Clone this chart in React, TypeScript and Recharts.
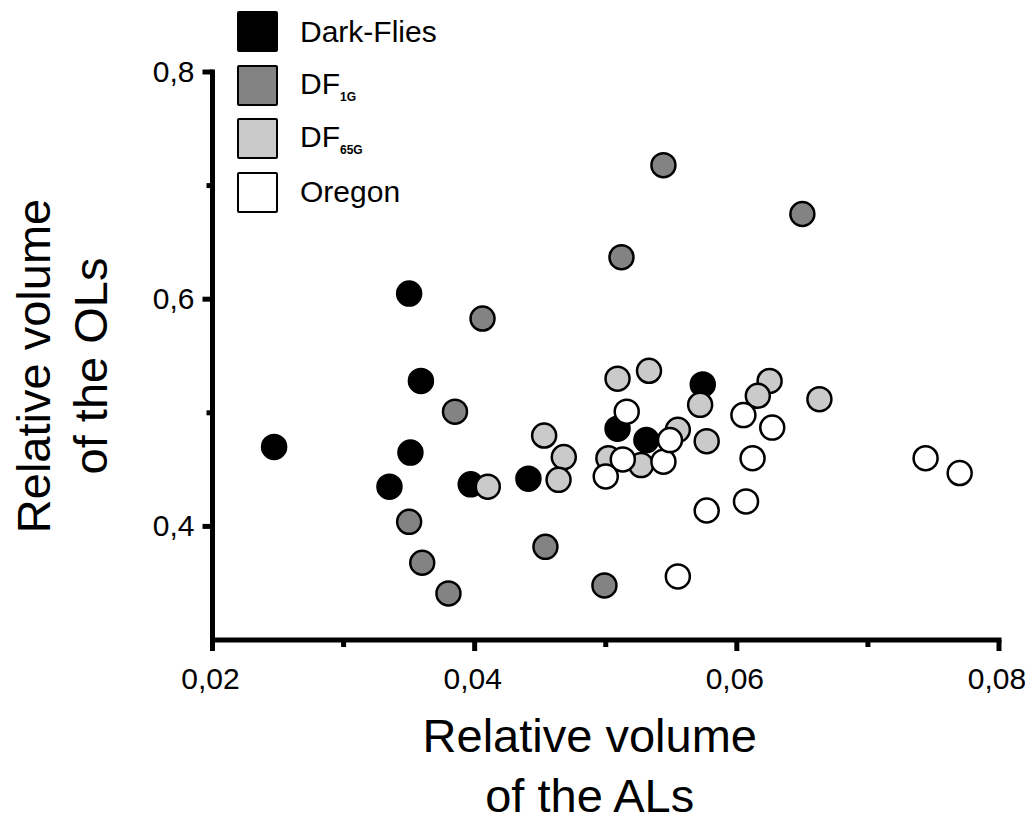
import { Legend, Scatter, ScatterChart, XAxis, YAxis } from "recharts";

const groupNames = ["Dark-Flies", "DF1G", "DF65G", "Oregon"];

const darkX = [0.0247, 0.035, 0.0359, 0.0351, 0.0335, 0.0397, 0.0441, 0.0509, 0.0531, 0.0574];
const darkY = [0.47, 0.605, 0.528, 0.465, 0.435, 0.437, 0.442, 0.486, 0.476, 0.525];

const df1gX = [0.035, 0.036, 0.038, 0.0406, 0.0385, 0.0454, 0.0499, 0.0544, 0.0512, 0.065];
const df1gY = [0.404, 0.368, 0.341, 0.583, 0.501, 0.382, 0.348, 0.718, 0.637, 0.675];

const df65gX = [0.041, 0.0453, 0.0468, 0.0464, 0.0509, 0.0533, 0.0572, 0.0577, 0.0625, 0.0616, 0.0663, 0.0527, 0.0555, 0.0502];
const df65gY = [0.435, 0.48, 0.461, 0.441, 0.53, 0.537, 0.507, 0.475, 0.528, 0.515, 0.512, 0.454, 0.485, 0.46];

const oregonX = [0.0516, 0.05, 0.0513, 0.0544, 0.0549, 0.0605, 0.0627, 0.0612, 0.0607, 0.0577, 0.0744, 0.077, 0.0555];
const oregonY = [0.501, 0.444, 0.459, 0.457, 0.476, 0.498, 0.487, 0.46, 0.422, 0.414, 0.46, 0.447, 0.356];

const xTicks = [0.02, 0.03, 0.04, 0.05, 0.06, 0.07, 0.08];
const xTickLabels = ["0,02", "", "0,04", "", "0,06", "", "0,08"];
const yTicks = [0.4, 0.5, 0.6, 0.7, 0.8];
const yTickLabels = ["0,4", "", "0,6", "", "0,8"];

const font = "'Liberation Sans', Arial, sans-serif";

const toPoints = (xs: number[], ys: number[]) => xs.map((x, i) => ({ x, y: ys[i] }));

const series = [
  { name: groupNames[0], fill: "#000000", data: toPoints(darkX, darkY) },
  { name: groupNames[1], fill: "#838383", data: toPoints(df1gX, df1gY) },
  { name: groupNames[2], fill: "#cacaca", data: toPoints(df65gX, df65gY) },
  { name: groupNames[3], fill: "#ffffff", data: toPoints(oregonX, oregonY) }
];

function Dot(props: any) {
  const { cx, cy, fill } = props;
  return <circle cx={cx} cy={cy} r={12} fill={fill} stroke="#000" strokeWidth={2.5} />;
}

function XTick(props: any) {
  const { x, y, index } = props;
  const label = xTickLabels[index];
  return (
    <g>
      <line x1={x} x2={x} y1={y} y2={y + (label ? 11 : 7)} stroke="#000" strokeWidth={5} />
      {label && (
        <text x={x - 2} y={y + 49} textAnchor="middle" fontSize={30} fontFamily={font} fill="#000">
          {label}
        </text>
      )}
    </g>
  );
}

function YTick(props: any) {
  const { x, y, index } = props;
  const label = yTickLabels[index];
  return (
    <g>
      <line x1={x - (label ? 10 : 6)} x2={x} y1={y} y2={y} stroke="#000" strokeWidth={5} />
      {label && (
        <text x={x - 18} y={y + 10} textAnchor="end" fontSize={30} fontFamily={font} fill="#000">
          {label}
        </text>
      )}
    </g>
  );
}

function XTitle(props: any) {
  const { viewBox } = props;
  const cx = viewBox.x + viewBox.width / 2 - 16;
  return (
    <g fontFamily={font} fontSize={47} fill="#000">
      <text x={cx} y={viewBox.y + 112} textAnchor="middle">Relative volume</text>
      <text x={cx} y={viewBox.y + 172} textAnchor="middle">of the ALs</text>
    </g>
  );
}

function YTitle(props: any) {
  const { viewBox } = props;
  const cy = viewBox.y + viewBox.height / 2 + 10;
  return (
    <g fontFamily={font} fontSize={47} fill="#000">
      <text x={42} y={cy} transform={`rotate(-90, 42, ${cy})`} textAnchor="middle">
        Relative volume
      </text>
      <text x={99} y={cy} transform={`rotate(-90, 99, ${cy})`} textAnchor="middle">
        of the OLs
      </text>
    </g>
  );
}

function LegendBox() {
  const row = (fill: string, main: string, sub?: string) => (
    <div key={main + (sub ?? "")} style={{ display: "flex", alignItems: "center", height: 53.5 }}>
      <div style={{ width: 37, height: 37, background: fill, border: "2px solid #000", borderRadius: 2 }} />
      <span style={{ marginLeft: 22, fontSize: 30, fontFamily: font, color: "#000" }}>
        {main}
        {sub && <sub style={{ fontSize: 12, fontWeight: "bold" }}>{sub}</sub>}
      </span>
    </div>
  );
  return (
    <div>
      {row(series[0].fill, "Dark-Flies")}
      {row(series[1].fill, "DF", "1G")}
      {row(series[2].fill, "DF", "65G")}
      {row(series[3].fill, "Oregon")}
    </div>
  );
}

export default function App() {
  return (
    <div style={{ background: "#fff" }}>
      <style>{`.recharts-surface { overflow: visible; }`}</style>
      <ScatterChart width={1017} height={814} margin={{ top: 64, right: 26, bottom: 0, left: 0 }}>
        <XAxis
          type="number"
          dataKey="x"
          domain={[0.02, 0.08]}
          ticks={xTicks}
          height={182}
          tickSize={0}
          tickMargin={0}
          tickLine={false}
          tick={<XTick />}
          axisLine={{ stroke: "#000", strokeWidth: 5, strokeLinecap: "square" }}
          allowDataOverflow
          label={<XTitle />}
        />
        <YAxis
          type="number"
          dataKey="y"
          domain={[0.3, 0.8]}
          ticks={yTicks}
          width={204.5}
          tickSize={0}
          tickMargin={0}
          tickLine={false}
          tick={<YTick />}
          axisLine={{ stroke: "#000", strokeWidth: 5, strokeLinecap: "square" }}
          allowDataOverflow
          label={<YTitle />}
        />
        <Legend
          content={<LegendBox />}
          layout="horizontal"
          verticalAlign="middle"
          align="center"
          wrapperStyle={{ top: -3, left: 229, width: 260, height: 214 }}
        />
        {series.map((s) => (
          <Scatter
            key={s.name}
            name={s.name}
            data={s.data}
            fill={s.fill}
            shape={<Dot />}
            isAnimationActive={false}
          />
        ))}
      </ScatterChart>
    </div>
  );
}
